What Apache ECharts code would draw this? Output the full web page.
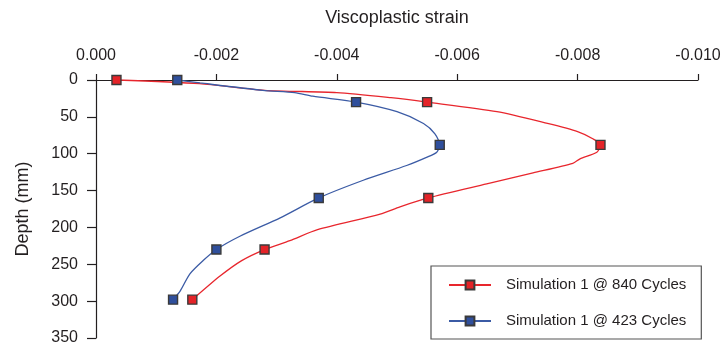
<!DOCTYPE html>
<html>
<head>
<meta charset="utf-8">
<script src="https://cdn.jsdelivr.net/npm/echarts@6/dist/echarts.min.js"></script>
<style>
  html, body { margin: 0; padding: 0; background: #fff; }
  #chart { width: 725px; height: 350px; }
</style>
</head>
<body>
<div id="chart"></div>
<script>
// Viscoplastic strain profiles with depth, two simulation stages
const seriesNames = ['Simulation 1 @ 840 Cycles', 'Simulation 1 @ 423 Cycles'];

// Depth (mm) and strain along each profile
const depth840  = [0, 5, 14, 17, 24, 30, 43, 59, 70, 80, 88, 98, 107, 113, 126, 141, 160, 172, 182, 203, 218, 230, 245, 266, 298];
const strain840 = [-0.00034, -0.00172, -0.0028, -0.0040, -0.0049, -0.0055, -0.00666, -0.0075, -0.0080, -0.00826, -0.00838,
                   -0.00832, -0.00804, -0.00792, -0.00726, -0.00649, -0.00552, -0.00505, -0.00472, -0.00368, -0.00322,
                   -0.0028, -0.00242, -0.00206, -0.0016];

const depth423  = [0, 4, 14, 17, 22, 30, 43, 59, 73, 88, 98, 105, 116, 136, 160, 187, 212, 230, 245, 263, 286, 298];
const strain423 = [-0.00135, -0.00173, -0.00277, -0.0033, -0.0036, -0.00432, -0.0050, -0.00544, -0.00563, -0.00571,
                   -0.00566, -0.00549, -0.00516, -0.00444, -0.0037, -0.00306, -0.00239, -0.0020, -0.00178, -0.00156,
                   -0.0014, -0.00128];

// Depths at which the sampled points are marked
const markedDepths = [0, 30, 88, 160, 230, 298];

// Axis ticks
const strainTicks = [0, -0.002, -0.004, -0.006, -0.008, -0.010];
const depthTicks = [0, 50, 100, 150, 200, 250, 300, 350];

function buildData(depths, strains) {
  return depths.map((d, i) => {
    const item = { value: [strains[i], d] };
    if (markedDepths.indexOf(d) < 0) item.symbol = 'none';
    return item;
  });
}

const textColor = '#231f20';
const axisColor = '#231f20';

const chart = echarts.init(document.getElementById('chart'), null, { renderer: 'canvas' });

function lineSeries(name, data, lineColor, fillColor) {
  return {
    name: name,
    type: 'line',
    data: data,
    symbol: 'rect',
    symbolSize: 9,
    smooth: 0.25,
    clip: false,
    lineStyle: { color: lineColor, width: 1.3 },
    itemStyle: { color: fillColor, borderColor: '#3a3a3a', borderWidth: 1.4 },
    emphasis: { disabled: true },
    z: 3
  };
}

chart.setOption({
  animation: false,
  backgroundColor: '#ffffff',
  textStyle: { fontFamily: 'Liberation Sans, Arial, sans-serif', color: textColor },
  grid: { left: 96, right: 27, top: 80, bottom: 12, containLabel: false },
  xAxis: {
    type: 'value',
    position: 'top',
    inverse: true,
    min: strainTicks[strainTicks.length - 1],
    max: strainTicks[0],
    interval: 0.002,
    name: 'Viscoplastic strain',
    nameLocation: 'middle',
    nameGap: 53,
    nameTextStyle: { fontSize: 18, color: textColor },
    axisLine: { show: true, lineStyle: { color: axisColor, width: 1.2 } },
    axisTick: { show: true, inside: false, length: 6, lineStyle: { color: axisColor, width: 1.2 } },
    axisLabel: {
      fontSize: 16, color: textColor, margin: 16,
      formatter: v => {
        const t = strainTicks.find(s => Math.abs(s - v) < 1e-9);
        return (t === undefined ? v : t).toFixed(3);
      }
    },
    splitLine: { show: false }
  },
  yAxis: {
    type: 'value',
    inverse: true,
    min: depthTicks[0],
    max: depthTicks[depthTicks.length - 1],
    interval: 50,
    name: 'Depth (mm)',
    nameLocation: 'middle',
    nameGap: 64,
    nameRotate: 90,
    nameTextStyle: { fontSize: 18, color: textColor },
    axisLine: { show: true, onZero: false, lineStyle: { color: axisColor, width: 1.2 } },
    axisTick: { show: true, inside: false, length: 9, lineStyle: { color: axisColor, width: 1.2 } },
    axisLabel: { fontSize: 16, color: textColor, margin: 18 },
    splitLine: { show: false }
  },
  legend: {
    orient: 'vertical',
    left: 431,
    top: 266,
    data: seriesNames,
    padding: [10, 15, 9, 17],
    borderColor: '#555555',
    borderWidth: 1.2,
    itemWidth: 42,
    itemHeight: 11,
    itemGap: 18,
    selectedMode: false,
    textStyle: { fontSize: 15, color: textColor, lineHeight: 18, padding: [0, 0, 0, 10] }
  },
  series: [
    lineSeries(seriesNames[0], buildData(depth840, strain840), '#e8262d', '#e42328'),
    lineSeries(seriesNames[1], buildData(depth423, strain423), '#3b5ba5', '#2f4f9c')
  ]
});
</script>
</body>
</html>
